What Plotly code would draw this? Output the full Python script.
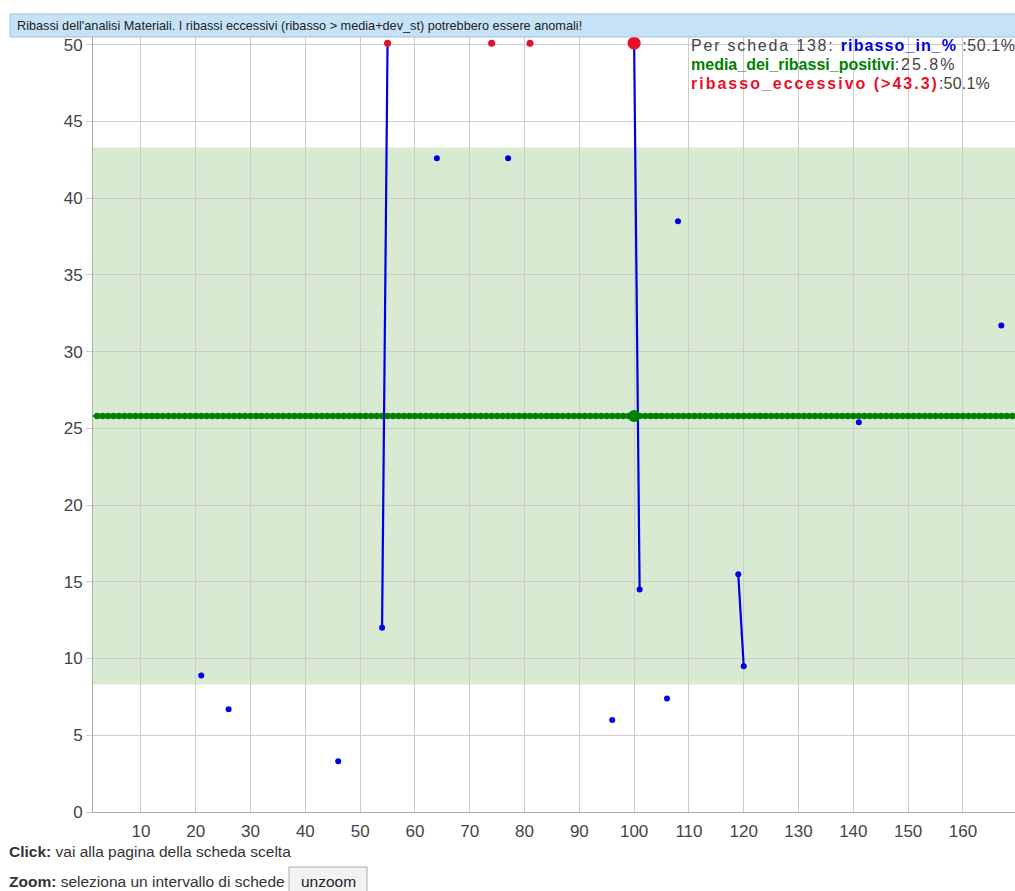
import plotly.graph_objects as go

# ---- data ----
scheda_idx = [21, 26, 46, 54, 55, 64, 74, 77, 81, 96, 100, 101, 106, 108, 119, 120, 141, 167]
ribasso_in_pct = [8.9, 6.7, 3.3, 12.0, 50.1, 42.6, 50.1, 42.6, 50.1, 6.0, 50.1, 14.5, 7.4, 38.5, 15.5, 9.5, 25.4, 31.7]
n_schede = 169
media_ribassi_positivi = 25.8
soglia_eccessivo = 43.3
soglia_bassa = 8.3
selected_idx = 100
selected_scheda = 138
x_ticks = [10, 20, 30, 40, 50, 60, 70, 80, 90, 100, 110, 120, 130, 140, 150, 160]
y_ticks = [0, 5, 10, 15, 20, 25, 30, 35, 40, 45, 50]

# full series with gaps (lines only join consecutive schede)
all_x = list(range(1, n_schede + 1))
lookup = dict(zip(scheda_idx, ribasso_in_pct))
blue_y = [lookup.get(x) for x in all_x]
red_x = [x for x, v in zip(scheda_idx, ribasso_in_pct) if v > soglia_eccessivo]
red_y = [v for v in ribasso_in_pct if v > soglia_eccessivo]
green_y = [media_ribassi_positivi for _ in all_x]
sel_val = lookup[selected_idx]

BLUE = "#0000e6"
GREEN = "#008000"
RED = "#e8102a"
TXT = "#444444"
FONT = "Liberation Sans, Arial, sans-serif"

W, H = 1015, 891
L, T, B = 93, 37, 891 - 812
PW, PH = W - L, H - T - B

def px(x):
    return (x - L) / PW

def py(y):
    return (812 - y) / PH

def seg(text, ls, color=None):
    style = f"letter-spacing:{ls}px"
    if color:
        style += f";color:{color}"
    return f"<span style='{style}'>{text}</span>"

fig = go.Figure()

fig.add_trace(go.Scatter(
    x=all_x, y=green_y, mode="lines+markers",
    line=dict(color=GREEN, width=2), marker=dict(color=GREEN, size=6.5),
    connectgaps=False, hoverinfo="skip", showlegend=False))

fig.add_trace(go.Scatter(
    x=all_x, y=blue_y, mode="lines+markers",
    line=dict(color=BLUE, width=2.2), marker=dict(color=BLUE, size=6),
    connectgaps=False, showlegend=False))

fig.add_trace(go.Scatter(
    x=red_x, y=red_y, mode="markers",
    marker=dict(color=RED, size=7), showlegend=False, cliponaxis=False))

fig.add_trace(go.Scatter(
    x=[selected_idx], y=[media_ribassi_positivi], mode="markers",
    marker=dict(color=GREEN, size=12), showlegend=False))

fig.add_trace(go.Scatter(
    x=[selected_idx], y=[sel_val], mode="markers",
    marker=dict(color=RED, size=13), showlegend=False, cliponaxis=False))

# band mean +/- dev_st
fig.add_shape(type="rect", xref="paper", yref="y", x0=0, x1=1,
              y0=soglia_bassa, y1=soglia_eccessivo,
              fillcolor="#d9ead3", line=dict(width=0), layer="below")

# title bar
fig.add_shape(type="rect", xref="paper", yref="paper",
              x0=px(10), x1=px(1016), y0=py(37), y1=py(14),
              fillcolor="#c6e2f7", line=dict(color="#9fc3dc", width=1), layer="above")
fig.add_annotation(xref="paper", yref="paper", x=px(15), y=py(26),
                   xanchor="left", yanchor="middle", showarrow=False,
                   text="Ribassi dell'analisi Materiali. I ribassi eccessivi (ribasso &gt; media+dev_st) potrebbero essere anomali!",
                   font=dict(family=FONT, size=12.7, color="#222222"))

# info box top-right
line1 = (seg(f"Per scheda {selected_scheda}: ", 1.8)
         + "<b>" + seg("ribasso_in_%", 1.1, BLUE) + "</b>"
         + seg(f" :{sel_val}%", 0.6))
line2 = ("<b>" + seg("media_dei_ribassi_positivi", 0, GREEN) + "</b>"
         + seg(f":{media_ribassi_positivi}%", 2))
line3 = ("<b>" + seg(f"ribasso_eccessivo (&gt;{soglia_eccessivo})", 2, RED) + "</b>"
         + seg(f":{sel_val}%", 0.2))
for txt, yy in [(line1, 45.5), (line2, 64.5), (line3, 83.5)]:
    fig.add_annotation(xref="paper", yref="paper", x=px(689), y=py(yy),
                       xanchor="left", yanchor="middle", showarrow=False,
                       text=txt, font=dict(family=FONT, size=16, color=TXT))

# bottom texts
fig.add_annotation(xref="paper", yref="paper", x=px(7), y=py(852),
                   xanchor="left", yanchor="middle", showarrow=False,
                   text="<b>Click:</b> vai alla pagina della scheda scelta",
                   font=dict(family=FONT, size=15.5, color="#333333"))
fig.add_annotation(xref="paper", yref="paper", x=px(7), y=py(881),
                   xanchor="left", yanchor="middle", showarrow=False,
                   text="<b>Zoom:</b> seleziona un intervallo di schede",
                   font=dict(family=FONT, size=15.5, color="#333333"))
fig.add_shape(type="rect", xref="paper", yref="paper",
              x0=px(289), x1=px(367), y0=py(894), y1=py(867),
              fillcolor="#f2f2f2", line=dict(color="#aaaaaa", width=1), layer="above")
fig.add_annotation(xref="paper", yref="paper", x=px(328), y=py(881),
                   xanchor="center", yanchor="middle", showarrow=False,
                   text="unzoom", font=dict(family=FONT, size=15.5, color="#222222"))

fig.update_layout(
    width=W, height=H,
    margin=dict(l=L, r=0, t=T, b=B, pad=0),
    plot_bgcolor="white", paper_bgcolor="white",
    hovermode="closest",
    xaxis=dict(range=[1.25, 169.5], tickvals=x_ticks, showgrid=True,
               gridcolor="#cccccc", gridwidth=1, zeroline=False,
               showline=True, linecolor="#aaaaaa", ticks="outside", ticklen=4,
               tickcolor="rgba(0,0,0,0)",
               tickfont=dict(family=FONT, size=17, color=TXT)),
    yaxis=dict(range=[0, 50.5], tickvals=y_ticks, showgrid=True,
               gridcolor="#cccccc", gridwidth=1, zeroline=False,
               showline=True, linecolor="#aaaaaa", ticks="outside", ticklen=6,
               tickcolor="#cccccc",
               tickfont=dict(family=FONT, size=17, color=TXT)),
)

fig.write_html("out.html", config={"displayModeBar": False},
               post_script="document.body.style.margin='0';document.body.style.overflow='hidden';")
